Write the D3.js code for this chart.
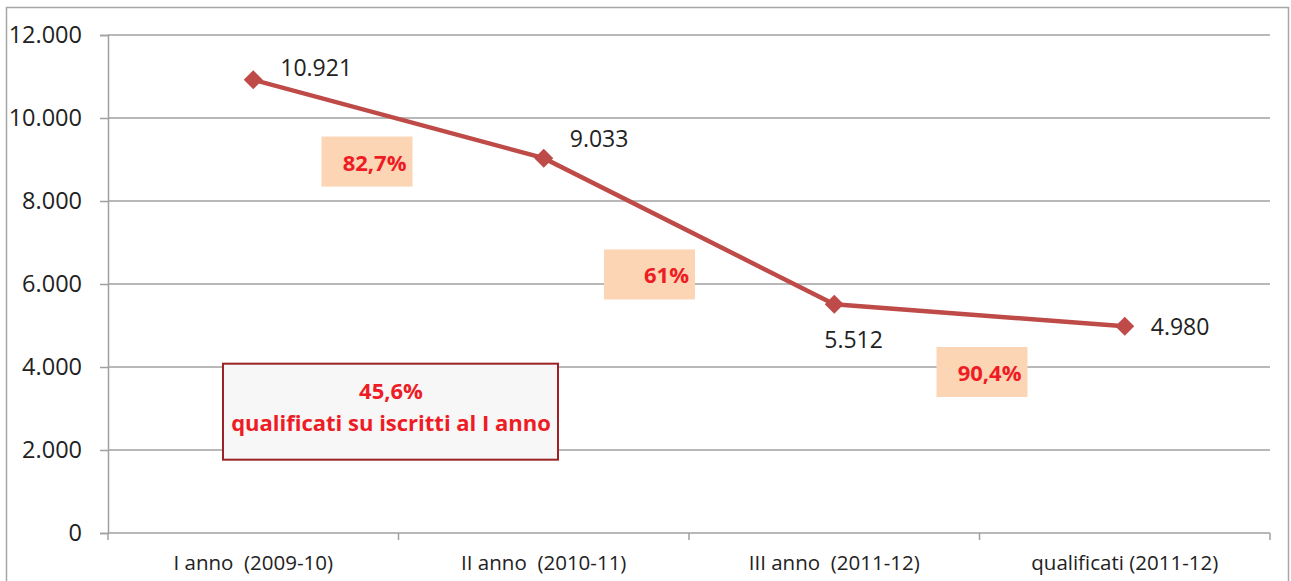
<!DOCTYPE html>
<html>
<head>
<meta charset="utf-8">
<script src="https://cdn.jsdelivr.net/npm/d3@7"></script>
<style>
  body { margin: 0; background: #fff; }
  svg { display: block; font-family: "Open Sans", "Liberation Sans", sans-serif; }
  text { white-space: pre; }
</style>
</head>
<body>
<div class="chart"></div>
<script>
// data
const categories = ["I anno  (2009-10)", "II anno  (2010-11)", "III anno  (2011-12)", "qualificati (2011-12)"];
const values = [10921, 9033, 5512, 4980];
const valueLabels = ["10.921", "9.033", "5.512", "4.980"];
const yTicks = [0, 2000, 4000, 6000, 8000, 10000, 12000];
const rateLabels = ["82,7%", "61%", "90,4%"];
const summaryLines = ["45,6%", "qualificati su iscritti al I anno"];

const width = 1291, height = 581;
const margin = { top: 35, right: 21, bottom: 48, left: 108 };
const plotW = width - margin.left - margin.right;
const plotH = height - margin.top - margin.bottom;

const svg = d3.select(".chart")
  .append("svg")
    .attr("width", width)
    .attr("height", height);

// outer frame
svg.append("rect")
  .attr("x", 6.5).attr("y", 7.5)
  .attr("width", 1282).attr("height", 590)
  .attr("fill", "none")
  .attr("stroke", "#a6a6a6")
  .attr("stroke-width", 1.5);

const chart = svg.append("g")
  .attr("transform", "translate(" + margin.left + "," + margin.top + ")");

const x = d3.scaleBand()
  .domain(categories)
  .range([0, plotW]);

const y = d3.scaleLinear()
  .domain([0, 12000])
  .range([plotH, 0]);

const fmt = d => d === 0 ? "0" : d3.format(",")(d).replace(/,/g, ".");

// gridlines
chart.append("g")
  .selectAll("line")
  .data(yTicks.filter(d => d > 0))
  .join("line")
    .attr("x1", 0).attr("x2", plotW)
    .attr("y1", d => y(d)).attr("y2", d => y(d))
    .attr("stroke", "#a0a0a0")
    .attr("stroke-width", 1.5);

// y axis
let yAxis = chart.append("g")
  .call(d3.axisLeft(y).tickValues(yTicks).tickFormat(fmt).tickSize(8).tickPadding(18));
yAxis.select(".domain").attr("stroke", "#a0a0a0").attr("stroke-width", 1.5);
yAxis.selectAll(".tick line").attr("stroke", "#a0a0a0").attr("stroke-width", 1.5);
yAxis.selectAll("text")
  .attr("font-size", 23.5)
  .attr("font-family", "'Open Sans', sans-serif")
  .attr("fill", "#222");

// x axis (ticks at category boundaries)
let xAxis = chart.append("g")
  .attr("transform", "translate(0," + plotH + ")");
xAxis.append("line")
  .attr("x1", 0).attr("x2", plotW)
  .attr("stroke", "#a0a0a0").attr("stroke-width", 1.5);
xAxis.selectAll(".xt")
  .data(categories.concat([null]))
  .join("line")
    .attr("class", "xt")
    .attr("x1", (d, i) => i * x.step()).attr("x2", (d, i) => i * x.step())
    .attr("y1", 0).attr("y2", 7)
    .attr("stroke", "#a0a0a0").attr("stroke-width", 1.5);
xAxis.selectAll(".xl")
  .data(categories)
  .join("text")
    .attr("class", "xl")
    .attr("x", d => x(d) + x.bandwidth() / 2)
    .attr("y", 37)
    .attr("text-anchor", "middle")
    .attr("font-size", 20.5)
    .attr("fill", "#222")
    .text(d => d);

// rate boxes between categories
const rateBoxes = [
  { dx: -32, yv: 8950 },
  { dx: -40, yv: 6230 },
  { dx: 2, yv: 3880 }
];
const rb = chart.append("g");
rateLabels.forEach((t, i) => {
  const cx = x(categories[i + 1]) + rateBoxes[i].dx;
  const cy = y(rateBoxes[i].yv);
  rb.append("rect")
    .attr("x", cx - 45).attr("y", cy - 25)
    .attr("width", 91).attr("height", 50)
    .attr("fill", "#fcd5b4");
  rb.append("text")
    .attr("x", cx + 40).attr("y", cy + 9)
    .attr("text-anchor", "end")
    .attr("font-size", 22).attr("font-weight", "bold")
    .attr("fill", "#ee1c25")
    .text(t);
});

// line + markers
const line = d3.line()
  .x((d, i) => x(categories[i]) + x.bandwidth() / 2)
  .y(d => y(d));

chart.append("path")
  .datum(values)
  .attr("fill", "none")
  .attr("stroke", "#be4b48")
  .attr("stroke-width", 4.5)
  .attr("d", line);

chart.selectAll(".pt")
  .data(values)
  .join("path")
    .attr("class", "pt")
    .attr("d", d3.symbol(d3.symbolDiamond2, 230))
    .attr("transform", (d, i) => "translate(" + (x(categories[i]) + x.bandwidth() / 2) + "," + y(d) + ")")
    .attr("fill", "#be4b48");

// value labels
const labelOffsets = [[27, -4], [26, -11], [-10, 44], [26, 9]];
chart.selectAll(".vl")
  .data(values)
  .join("text")
    .attr("class", "vl")
    .attr("x", (d, i) => x(categories[i]) + x.bandwidth() / 2 + labelOffsets[i][0])
    .attr("y", (d, i) => y(d) + labelOffsets[i][1])
    .attr("font-size", 23)
    .attr("fill", "#222")
    .text((d, i) => valueLabels[i]);

// summary box
const sb = chart.append("g")
  .attr("transform", "translate(" + (x(categories[0]) + 115) + "," + y(4080) + ")");
sb.append("rect")
  .attr("width", 335).attr("height", 96)
  .attr("fill", "#f7f7f7")
  .attr("stroke", "#9b2326")
  .attr("stroke-width", 2);
sb.selectAll("text")
  .data(summaryLines)
  .join("text")
    .attr("x", 168)
    .attr("y", (d, i) => 35 + i * 32)
    .attr("text-anchor", "middle")
    .attr("font-size", 22).attr("font-weight", "bold")
    .attr("fill", "#ee1c25")
    .text(d => d);
</script>
</body>
</html>
